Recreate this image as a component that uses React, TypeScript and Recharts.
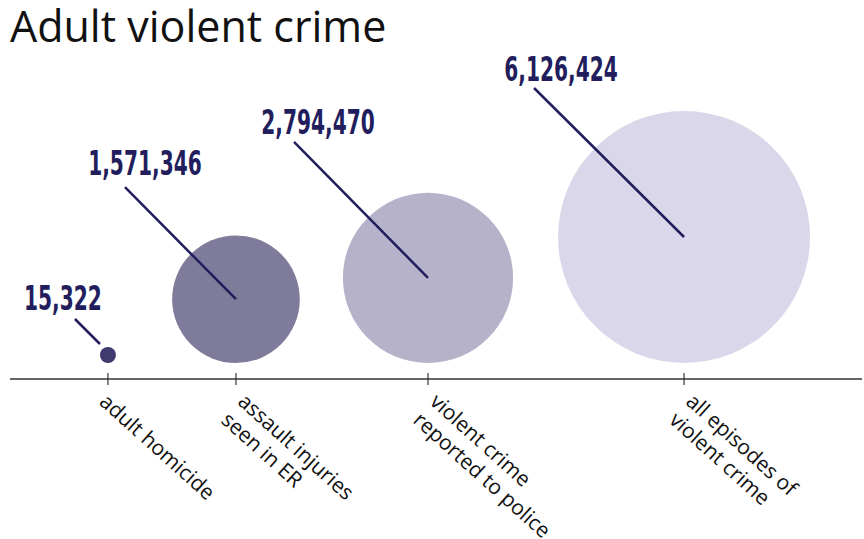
import { Scatter, ScatterChart, XAxis, YAxis } from "recharts";

const categories = [
  ["adult homicide"],
  ["assault injuries", "seen in ER"],
  ["violent crime", "reported to police"],
  ["all episodes of", "violent crime"],
];
const counts = [15322, 1571346, 2794470, 6126424];
const positions = [0, 2, 5, 9];

const fills = ["#3f3b6f", "#7f7b9b", "#b5b2c9", "#dbd7ea"];
const ink = "#221d5c";
const maxRadius = 126;
const minRadius = 8;
const baseGap = 16;
const maxCount = Math.max(...counts);

// leader line + number label, relative to bubble centre
const leaders = [
  { x1: -8, y1: -11, x2: -33, y2: -36, tx: -45, ty: -45 },
  { x1: 0, y1: 0, x2: -111, y2: -112, tx: -91, ty: -124 },
  { x1: 0, y1: 0, x2: -134, y2: -136, tx: -110, ty: -144 },
  { x1: 0, y1: 0, x2: -150, y2: -149, tx: -123, ty: -156 },
];

const data = positions.map((pos, i) => ({
  pos,
  base: 0,
  count: counts[i],
  idx: i,
}));

function Bubble(props: any) {
  const { cx, cy, payload } = props;
  const i = payload.idx;
  const r = Math.max(minRadius, maxRadius * Math.sqrt(payload.count / maxCount));
  const x = cx;
  const y = cy - baseGap - r;
  const l = leaders[i];
  return (
    <g>
      <circle cx={x} cy={y} r={r} fill={fills[i]} />
      <line
        x1={x + l.x1}
        y1={y + l.y1}
        x2={x + l.x2}
        y2={y + l.y2}
        stroke={ink}
        strokeWidth={2.5}
      />
      <text
        transform={`translate(${x + l.tx},${y + l.ty}) scale(0.68,1)`}
        textAnchor="middle"
        fontFamily="'DejaVu Sans Condensed', 'DejaVu Sans', sans-serif"
        fontWeight={700}
        fontSize={33}
        fill={ink}
      >
        {payload.count.toLocaleString("en-US")}
      </text>
    </g>
  );
}

function CategoryTick(props: any) {
  const { x, y, payload } = props;
  const i = positions.indexOf(payload.value);
  const lines = categories[i] ?? [];
  const n = lines.length;
  const ox = n === 1 ? x - 2 : x;
  const oy = n === 1 ? y + 16 : y + 25;
  return (
    <g>
      <line x1={x} x2={x} y1={y - 6} y2={y + 6} stroke="#333" strokeWidth={1.2} />
      <g transform={`translate(${ox},${oy}) rotate(42)`}>
        {lines.map((t, k) => (
          <text
            key={t}
            x={0}
            y={11.4 + (k - (n - 1) / 2) * 25}
            fontFamily="'Open Sans', sans-serif"
            fontSize={21}
            fill="#111"
          >
            {t}
          </text>
        ))}
      </g>
    </g>
  );
}

export default function App() {
  return (
    <div style={{ position: "absolute", left: 0, top: 0, width: 864, height: 539, background: "#fff" }}>
      <ScatterChart
        width={864}
        height={539}
        margin={{ top: 0, right: 2, bottom: 0, left: 10 }}
      >
        <XAxis
          type="number"
          dataKey="pos"
          domain={[-1.53, 11.78]}
          ticks={positions}
          interval={0}
          height={160}
          tickLine={false}
          tickSize={0}
          tickMargin={0}
          axisLine={{ stroke: "#333", strokeWidth: 1.5 }}
          tick={<CategoryTick />}
        />
        <YAxis type="number" dataKey="base" domain={[0, 1]} hide />
        <Scatter data={data} shape={<Bubble />} isAnimationActive={false} />
      </ScatterChart>
      <svg
        width={864}
        height={60}
        style={{ position: "absolute", left: 0, top: 0 }}
      >
        <text x={10} y={42} fontFamily="'Open Sans', sans-serif" fontSize={43} fill="#111">
          Adult violent crime
        </text>
      </svg>
    </div>
  );
}
